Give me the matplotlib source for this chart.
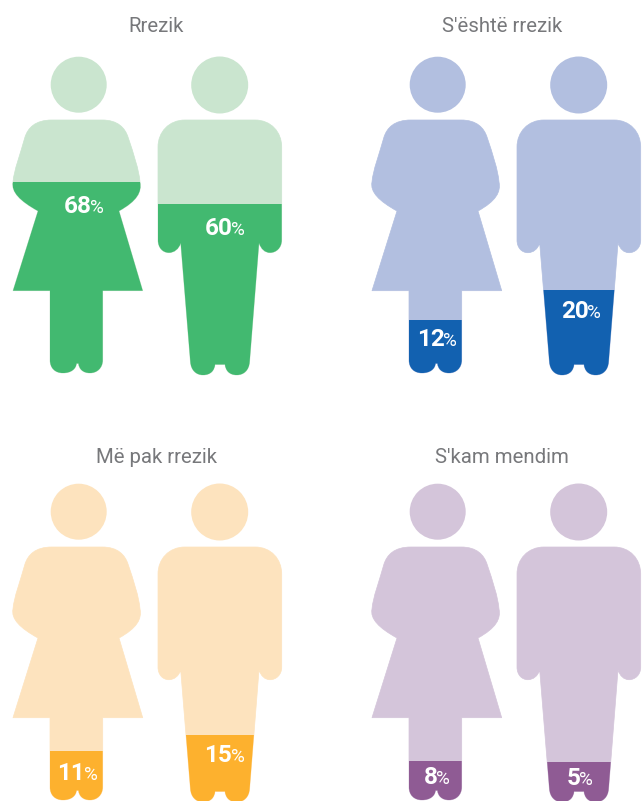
import matplotlib
matplotlib.use("Agg")
import matplotlib.pyplot as plt
from matplotlib.path import Path
from matplotlib.patches import PathPatch, Circle

# categories and values
titles = ["Rrezik", "S'është rrezik", "Më pak rrezik", "S'kam mendim"]
women_pct = [68, 12, 11, 8]
men_pct = [60, 20, 15, 5]

# how high the dark part reaches, measured from the soles (the picture is not to scale with the %)
women_fill = [191, 53, 49, 39]
men_fill = [171, 85, 67, 40]

light_colors = ["#CAE5CF", "#B2BFE0", "#FDE3BE", "#D4C5DA"]
dark_colors = ["#42B970", "#1261B0", "#FDB12E", "#8F5B94"]

# where each panel sits, relative to the top left one
panel_dx = [0, 359, 0, 359]
panel_dy = [0, 0, 427, 427]
title_x = [156, 502, 156, 501.5]
title_y = [31.7, 31.7, 463, 463]

# label centre x and baseline y, relative to the panel
women_label_x = [83.5, 78, 77.5, 78]
women_label_y = [213, 346, 353, 357]
men_label_x = [224.5, 222, 224.5, 221]
men_label_y = [235, 318, 335, 358]

M, L, C, Z = Path.MOVETO, Path.LINETO, Path.CURVE4, Path.CLOSEPOLY

woman_verts = [
    (52, 120), (102, 120),
    (118, 120), (125, 128), (128, 137),
    (134, 155), (139, 170), (140, 182),
    (142, 192), (137, 201), (119, 211),
    (142.7, 290.7), (102.7, 290.7), (102.7, 360),
    (102.7, 368), (97, 373), (90, 373),
    (83, 373), (79, 369), (78.5, 363.5),
    (76.5, 363.5),
    (76, 369), (71, 373), (63, 373),
    (55, 373), (50, 368), (50, 360),
    (50, 290.7), (13, 290.7), (38, 211),
    (20, 201), (11, 192), (13, 182),
    (14, 170), (20, 155), (25, 137),
    (28, 128), (35, 120), (52, 120),
    (52, 120),
]
woman_codes = [M, L,
               C, C, C,
               C, C, C,
               C, C, C,
               L, L, L,
               C, C, C,
               C, C, C,
               L,
               C, C, C,
               C, C, C,
               L, L, L,
               C, C, C,
               C, C, C,
               C, C, C,
               Z]

man_verts = [
    (185, 120), (255, 120),
    (271, 120), (281.7, 132), (281.7, 147),
    (281.7, 240),
    (281.7, 248), (276, 252.7), (270, 252.7),
    (265, 252.7), (261, 249), (259, 243),
    (249.6, 362),
    (249, 370), (244, 375), (236.7, 375),
    (229, 375), (225.5, 370), (225, 364.5),
    (215, 364.5),
    (214.5, 370), (211, 375), (203, 375),
    (196, 375), (191, 370), (190.4, 362),
    (180.7, 243),
    (179, 249), (174, 252.7), (169, 252.7),
    (163, 252.7), (158, 248), (158, 240),
    (158, 147),
    (158, 132), (169, 120), (185, 120),
    (185, 120),
]
man_codes = [M, L,
             C, C, C,
             L,
             C, C, C,
             C, C, C,
             L,
             C, C, C,
             C, C, C,
             L,
             C, C, C,
             C, C, C,
             L,
             C, C, C,
             C, C, C,
             L,
             C, C, C,
             Z]

plt.rcParams["font.family"] = ["Roboto", "DejaVu Sans"]

fig = plt.figure(figsize=(6.43, 8.01), dpi=100)
ax = fig.add_axes([0, 0, 1, 1])
ax.set_xlim(0, 643)
ax.set_ylim(801, 0)
ax.axis("off")


def draw_figure(verts, codes, head, dx, dy, fill, sole, light, dark):
    moved = [(x + dx, y + dy) for x, y in verts]
    path = Path(moved, codes)
    ax.add_patch(Circle((head[0] + dx, head[1] + dy), head[2], color=light, lw=0))
    ax.add_patch(PathPatch(path, facecolor=light, edgecolor=light, lw=0.5))
    left = min(v[0] for v in moved) - 2
    right = max(v[0] for v in moved) + 2
    bars = ax.bar(left, -fill, width=right - left, bottom=sole + dy, align="edge", color=dark, lw=0)
    # the dark block only shows inside the silhouette
    bars[0].set_clip_path(PathPatch(path, transform=ax.transData))


def draw_label(cx, base, pct):
    num = ax.text(cx, base, str(pct), fontsize=17.5, fontweight="bold", color="white", ha="left", va="baseline")
    sign = ax.text(cx, base, "%", fontsize=13.5, color="white", ha="left", va="baseline")
    fig.canvas.draw()
    w1 = num.get_window_extent().width
    w2 = sign.get_window_extent().width
    start = cx - (w1 + w2 - 1.5) / 2
    num.set_x(start)
    sign.set_x(start + w1 - 1.5)


for i in range(4):
    dx = panel_dx[i]
    dy = panel_dy[i]
    ax.text(title_x[i], title_y[i], titles[i], fontsize=14.7, color="#77787B", ha="center", va="baseline")
    draw_figure(woman_verts, woman_codes, (78.7, 84.7, 28), dx, dy, women_fill[i], 373, light_colors[i], dark_colors[i])
    draw_figure(man_verts, man_codes, (219.7, 85, 28.5), dx, dy, men_fill[i], 375, light_colors[i], dark_colors[i])
    draw_label(women_label_x[i] + dx, women_label_y[i] + dy, women_pct[i])
    draw_label(men_label_x[i] + dx, men_label_y[i] + dy, men_pct[i])

fig.savefig("out.png", dpi=100)
